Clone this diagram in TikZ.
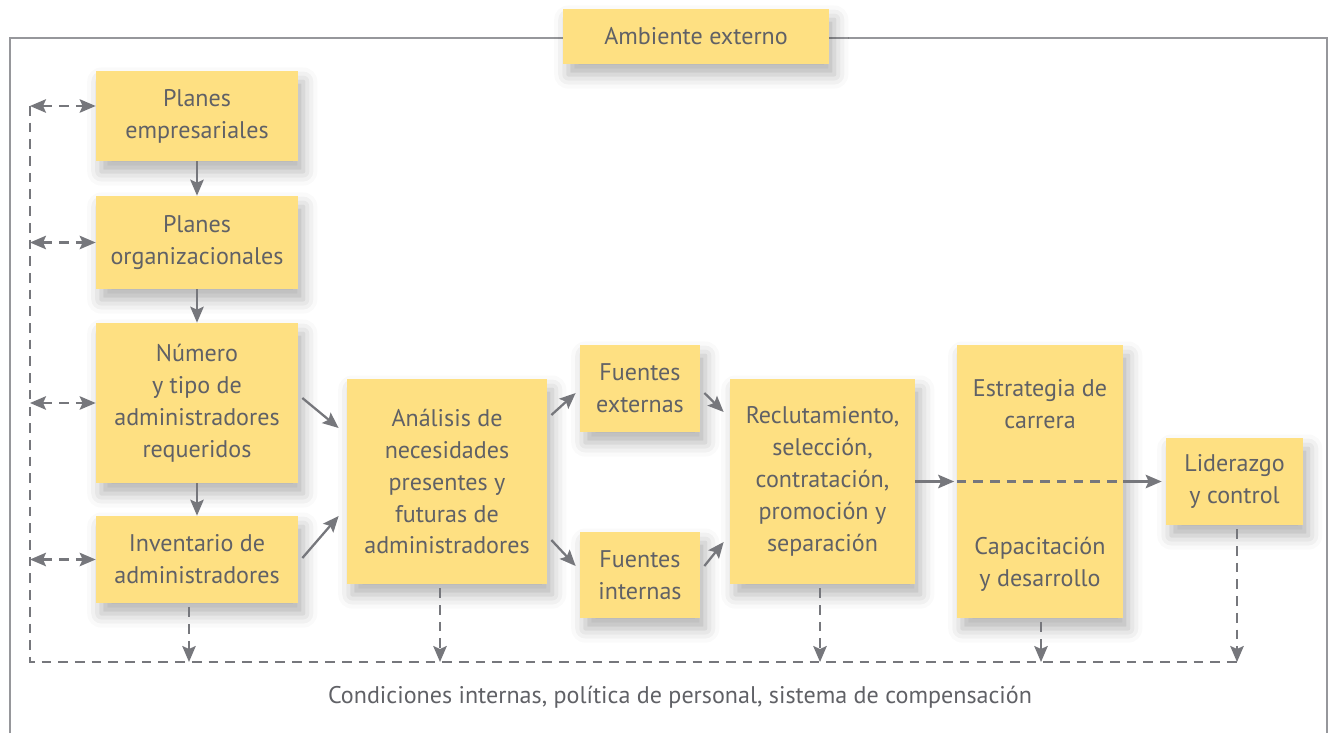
\documentclass[tikz,border=0pt]{standalone}
\usepackage{fontspec}
\setmainfont{PT Sans}
\usetikzlibrary{positioning,arrows.meta,shadows.blur}
\definecolor{boxyellow}{RGB}{254,224,130}
\definecolor{txtgray}{RGB}{96,97,102}
\definecolor{linegray}{RGB}{118,119,124}
\definecolor{framegray}{RGB}{150,151,155}
\tikzset{
  box/.style={fill=boxyellow, text=txtgray, align=center, inner sep=0pt,
    font=\fontsize{13.7}{18.2}\selectfont,
    blur shadow={shadow xshift=3pt, shadow yshift=-6pt, shadow blur radius=8pt, shadow opacity=30}},
  lbl/.style={text=txtgray, align=center, font=\fontsize{13.7}{18.2}\selectfont},
  tip/.style={-{Stealth[length=3.2mm,width=2.7mm,inset=0.6mm]}},
  flow/.style={draw=linegray, line width=1.3pt, tip},
  fb/.style={draw=linegray, line width=1.2pt, dash pattern=on 5.5pt off 4pt},
}
\begin{document}
\begin{tikzpicture}
  \useasboundingbox (0,0) rectangle (26.68,-14.66);
  % outer frame
  \draw[framegray, line width=1pt] (0.2,-14.66) -- (0.2,-0.76) -- (26.54,-0.76) -- (26.54,-14.66);
  \node[box, minimum width=5.32cm, minimum height=1.10cm] (amb) at (13.92,-0.73) {Ambiente externo};

  % left column
  \node[box, minimum width=4.04cm, minimum height=1.80cm] (pe) at (3.94,-2.32) {Planes\\empresariales};
  \node[box, minimum width=4.04cm, minimum height=1.86cm] (po) at (3.94,-4.85) {Planes\\organizacionales};
  \node[box, minimum width=4.04cm, minimum height=3.20cm] (num) at (3.94,-8.06) {Número\\y tipo de\\administradores\\requeridos};
  \node[box, minimum width=4.04cm, minimum height=1.74cm] (inv) at (3.94,-11.19) {Inventario de\\administradores};

  % middle
  \node[box, minimum width=4.00cm, minimum height=4.10cm] (ana) at (8.94,-9.63) {Análisis de\\necesidades\\presentes y\\futuras de\\administradores};
  \node[box, minimum width=2.40cm, minimum height=1.74cm] (fext) at (12.80,-7.77) {Fuentes\\externas};
  \node[box, minimum width=2.40cm, minimum height=1.72cm] (fint) at (12.80,-11.50) {Fuentes\\internas};
  \node[box, minimum width=3.70cm, minimum height=4.10cm] (rec) at (16.45,-9.63) {Reclutamiento,\\selección,\\contratación,\\promoción y\\separación};

  % right
  \node[box, minimum width=3.32cm, minimum height=5.46cm] (car) at (20.80,-9.63) {};
  \node[lbl] (carA) at (20.80,-8.08) {Estrategia de\\carrera};
  \node[lbl] (carB) at (20.80,-11.28) {Capacitación\\y desarrollo};
  \node[box, minimum width=2.74cm, minimum height=1.74cm] (lid) at (24.69,-9.63) {Liderazgo\\y control};

  % solid flow
  \draw[flow] (pe) -- (po);
  \draw[flow] (po) -- (num);
  \draw[flow] (num) -- (inv);
  \draw[flow] ([xshift=0.8mm,yshift=1mm]num.east) -- ([xshift=-1.6mm,yshift=1.07cm]ana.west);
  \draw[flow] ([xshift=0.8mm,yshift=0.3mm]inv.east) -- ([xshift=-1.6mm,yshift=-0.69cm]ana.west);
  \draw[flow] ([xshift=0.8mm,yshift=1.33cm]ana.east) -- ([xshift=-0.8mm,yshift=-0.9mm]fext.west);
  \draw[flow] ([xshift=0.8mm,yshift=-1.17cm]ana.east) -- ([xshift=-0.8mm,yshift=1.8mm]fint.west);
  \draw[flow] ([xshift=0.8mm,yshift=-0.9mm]fext.east) -- ([xshift=-1.2mm,yshift=1.39cm]rec.west);
  \draw[flow] ([xshift=0.8mm,yshift=1.8mm]fint.east) -- ([xshift=-1.2mm,yshift=-1.21cm]rec.west);
  \draw[flow, shorten >=0.5mm] (rec.east) -- (car.west);
  \draw[fb] (car.west) -- (car.east);
  \draw[flow, shorten >=0.8mm] (car.east) -- (lid.west);

  % feedback
  \coordinate (ll) at (0.6,-2.12);
  \coordinate (br) at (24.74,-13.24);
  \draw[fb] (ll) |- (br);
  \draw[fb, {Stealth[length=3.2mm,width=2.7mm,inset=0.6mm]}-{Stealth[length=3.2mm,width=2.7mm,inset=0.6mm]}] (ll) -- (ll -| pe.west);
  \foreach \n in {po, num, inv}
    \draw[fb, {Stealth[length=3.2mm,width=2.7mm,inset=0.6mm]}-{Stealth[length=3.2mm,width=2.7mm,inset=0.6mm]}] (\n.west -| ll) -- (\n.west);
  \foreach \n/\dx in {inv/-1.6mm, ana/-1.4mm, rec/-0.5mm, car/0.2mm, lid/0.5mm}
    \draw[fb, tip, shorten <=0.8mm] ([xshift=\dx]\n.south) -- ([xshift=\dx]\n.south |- br);

  \node[lbl] (cond) at (13.6,-13.94) {Condiciones internas, política de personal, sistema de compensación};
\end{tikzpicture}
\end{document}
